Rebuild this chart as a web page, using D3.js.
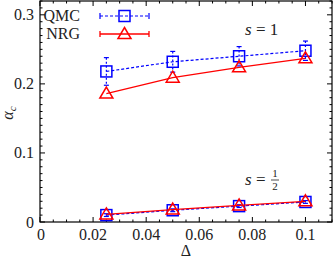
<!DOCTYPE html>
<html>
<head>
<meta charset="utf-8">
<script src="https://cdn.jsdelivr.net/npm/d3@7"></script>
<style>
body { margin: 0; background: #fff; }
text { font-family: "Liberation Serif", "DejaVu Serif", serif; }
</style>
</head>
<body>
<div id="chart"></div>
<script>
// values
var deltas = [0.025, 0.05, 0.075, 0.1];
var qmcS1 = [0.218, 0.232, 0.240, 0.248];
var qmcS1Err = [0.020, 0.015, 0.014, 0.014];
var nrgS1 = [0.186, 0.209, 0.224, 0.237];
var qmcHalf = [0.010, 0.017, 0.023, 0.029];
var qmcHalfErr = [0.002, 0.002, 0.002, 0.002];
var nrgHalf = [0.011, 0.018, 0.024, 0.030];
var xTicks = [0, 0.02, 0.04, 0.06, 0.08, 0.1];
var yTicks = [0, 0.1, 0.2, 0.3];

var width = 333, height = 258;
var plotL = 40, plotR = 332, plotT = 1, plotB = 222;
var blue = '#0000ff', red = '#ff0000';

var svg = d3.select('#chart').append('svg')
    .attr('width', width)
    .attr('height', height);

var x = d3.scaleLinear().domain([0, 0.11]).range([plotL, plotR]);
var y = d3.scaleLinear().domain([0, 0.32]).range([plotB, plotT]);

// frame
svg.append('rect')
    .attr('x', plotL).attr('y', plotT)
    .attr('width', plotR - plotL).attr('height', plotB - plotT)
    .attr('fill', 'none').attr('stroke', '#000').attr('stroke-width', 1.2);

// ticks on all four sides, pointing inward
var xMinor = d3.range(0, 0.1101, 0.005);
var yMinor = d3.range(0, 0.3201, 0.01);
function isMajor(v, step) { return Math.abs(v / step - Math.round(v / step)) < 1e-6; }

xMinor.forEach(function(v){
    var len = isMajor(v, 0.02) ? 5 : 2.5;
    svg.append('line').attr('x1', x(v)).attr('x2', x(v)).attr('y1', plotB).attr('y2', plotB - len)
        .attr('stroke', '#000');
    svg.append('line').attr('x1', x(v)).attr('x2', x(v)).attr('y1', plotT).attr('y2', plotT + len)
        .attr('stroke', '#000');
});
yMinor.forEach(function(v){
    var len = isMajor(v, 0.1) ? 5 : 2.5;
    svg.append('line').attr('y1', y(v)).attr('y2', y(v)).attr('x1', plotL).attr('x2', plotL + len)
        .attr('stroke', '#000');
    svg.append('line').attr('y1', y(v)).attr('y2', y(v)).attr('x1', plotR).attr('x2', plotR - len)
        .attr('stroke', '#000');
});

// tick labels
svg.selectAll('.xlab').data(xTicks).enter().append('text')
    .attr('class', 'xlab')
    .attr('x', function(d){ return x(d) + (d === 0 ? 1 : 0); })
    .attr('y', 240)
    .attr('text-anchor', 'middle')
    .attr('font-size', 16)
    .attr('fill', '#222')
    .text(function(d){ return d === 0 ? '0' : d3.format('.2~f')(d); });

svg.selectAll('.ylab').data(yTicks).enter().append('text')
    .attr('class', 'ylab')
    .attr('x', 34)
    .attr('y', function(d){ return y(d) + 5.5; })
    .attr('text-anchor', 'end')
    .attr('font-size', 16)
    .attr('fill', '#222')
    .text(function(d){ return d === 0 ? '0' : d3.format('.1f')(d); });

// axis titles
svg.append('text')
    .attr('x', 186).attr('y', 256)
    .attr('text-anchor', 'middle')
    .attr('font-size', 16)
    .attr('fill', '#222')
    .text('Δ');

var yt = svg.append('text')
    .attr('transform', 'translate(13,113) rotate(-90)')
    .attr('text-anchor', 'middle')
    .attr('font-size', 16)
    .attr('fill', '#222')
    .attr('font-style', 'italic');
yt.append('tspan').text('α');
yt.append('tspan').attr('font-size', 11).attr('dy', 3).text('c');

var line = d3.line()
    .x(function(d){ return x(d[0]); })
    .y(function(d){ return y(d[1]); });

function square(g, cx, cy) {
    g.append('rect')
        .attr('x', cx - 5.5).attr('y', cy - 5.5)
        .attr('width', 11).attr('height', 11)
        .attr('fill', 'none').attr('stroke', blue).attr('stroke-width', 1.5);
}
function triangle(g, cx, cy) {
    g.append('path')
        .attr('d', 'M' + cx + ',' + (cy - 6.5) + 'L' + (cx + 6.5) + ',' + (cy + 4.5) + 'L' + (cx - 6.5) + ',' + (cy + 4.5) + 'Z')
        .attr('fill', 'none').attr('stroke', red).attr('stroke-width', 1.5);
}

function drawQmc(vals, errs) {
    var pts = deltas.map(function(d, i){ return [d, vals[i]]; });
    var g = svg.append('g');
    g.append('path').datum(pts).attr('d', line)
        .attr('fill', 'none').attr('stroke', blue).attr('stroke-width', 1.2)
        .attr('stroke-dasharray', '3,2');
    pts.forEach(function(p, i){
        var cx = x(p[0]), y1 = y(p[1] + errs[i]), y2 = y(p[1] - errs[i]);
        g.append('line').attr('x1', cx).attr('x2', cx).attr('y1', y1).attr('y2', y2)
            .attr('stroke', blue).attr('stroke-width', 1.2).attr('stroke-dasharray', '2,2');
        [y1, y2].forEach(function(yy){
            g.append('line').attr('x1', cx - 2.5).attr('x2', cx + 2.5).attr('y1', yy).attr('y2', yy)
                .attr('stroke', blue).attr('stroke-width', 1.2);
        });
        square(g, cx, y(p[1]));
    });
}
function drawNrg(vals) {
    var pts = deltas.map(function(d, i){ return [d, vals[i]]; });
    var g = svg.append('g');
    g.append('path').datum(pts).attr('d', line)
        .attr('fill', 'none').attr('stroke', red).attr('stroke-width', 1.3);
    pts.forEach(function(p){ triangle(g, x(p[0]), y(p[1])); });
}

drawQmc(qmcS1, qmcS1Err);
drawQmc(qmcHalf, qmcHalfErr);
drawNrg(nrgS1);
drawNrg(nrgHalf);

// legend
var legend = svg.append('g');
legend.append('text').attr('x', 80).attr('y', 21).attr('text-anchor', 'end')
    .attr('font-size', 16).attr('fill', '#222').text('QMC');
legend.append('text').attr('x', 80).attr('y', 39).attr('text-anchor', 'end')
    .attr('font-size', 16).attr('fill', '#222').text('NRG');
legend.append('line').attr('x1', 100).attr('x2', 149).attr('y1', 16).attr('y2', 16)
    .attr('stroke', blue).attr('stroke-width', 1.2).attr('stroke-dasharray', '3,2');
[100, 149].forEach(function(xx){
    legend.append('line').attr('x1', xx).attr('x2', xx).attr('y1', 13).attr('y2', 19)
        .attr('stroke', blue).attr('stroke-width', 1.2);
});
square(legend, 124.5, 16);
legend.append('line').attr('x1', 100).attr('x2', 149).attr('y1', 34).attr('y2', 34)
    .attr('stroke', red).attr('stroke-width', 1.3);
[100, 149].forEach(function(xx){
    legend.append('line').attr('x1', xx).attr('x2', xx).attr('y1', 31).attr('y2', 37)
        .attr('stroke', red).attr('stroke-width', 1.3);
});
triangle(legend, 124.5, 34);

// annotations
var s1 = svg.append('text').attr('x', 245).attr('y', 35).attr('font-size', 17).attr('fill', '#222');
s1.append('tspan').attr('font-style', 'italic').text('s');
s1.append('tspan').text(' = 1');

var s2 = svg.append('text').attr('x', 245).attr('y', 185).attr('font-size', 17).attr('fill', '#222');
s2.append('tspan').attr('font-style', 'italic').text('s');
s2.append('tspan').text(' =');
svg.append('text').attr('x', 275).attr('y', 177).attr('text-anchor', 'middle')
    .attr('font-size', 11).attr('fill', '#222').text('1');
svg.append('line').attr('x1', 271).attr('x2', 279).attr('y1', 180).attr('y2', 180)
    .attr('stroke', '#222').attr('stroke-width', 0.8);
svg.append('text').attr('x', 275).attr('y', 190).attr('text-anchor', 'middle')
    .attr('font-size', 11).attr('fill', '#222').text('2');
</script>
</body>
</html>
